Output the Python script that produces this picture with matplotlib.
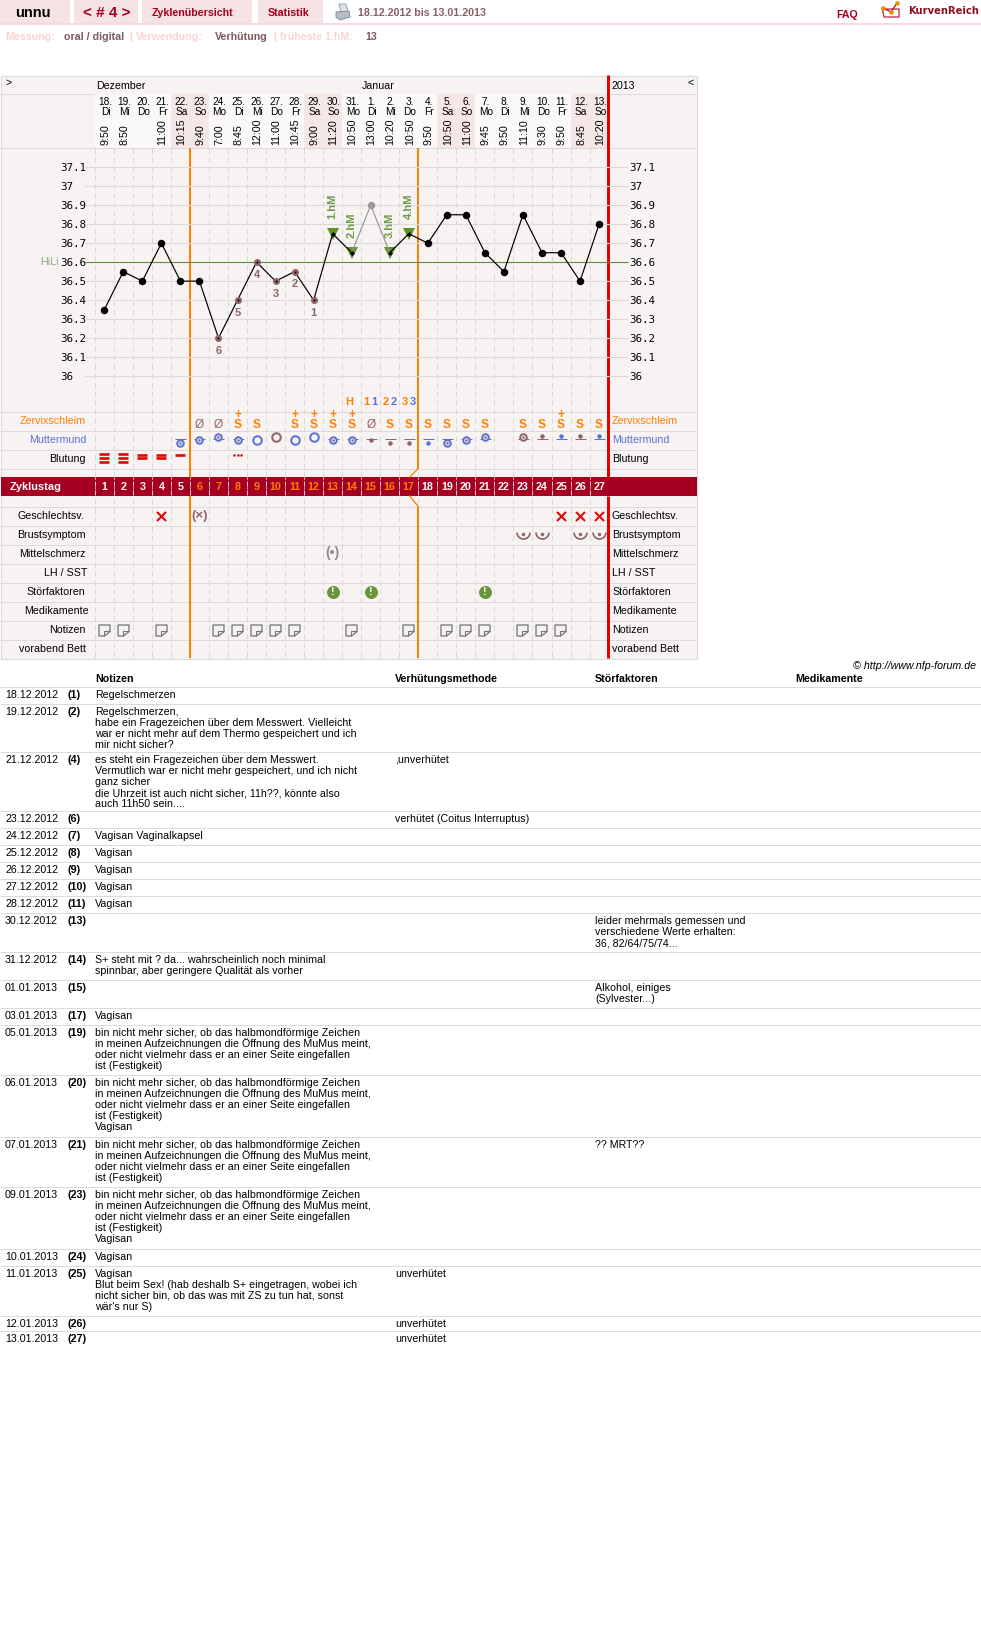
#!/usr/bin/env python
"""NFP cycle chart: temperature curve, symptom rows and the notes table below."""

import matplotlib
matplotlib.use("Agg")
import matplotlib.pyplot as plt
from matplotlib.patches import Rectangle, Polygon
from matplotlib.path import Path

plt.rcParams["font.family"] = ["Liberation Sans", "DejaVu Sans"]

# ── Data ──────────────────────────────────────────────────────────────────────
DAYS = list(range(1, 28))
DATE_NUMS = ["18.", "19.", "20.", "21.", "22.", "23.", "24.", "25.", "26.", "27.", "28.", "29.", "30.", "31.",
             "1.", "2.", "3.", "4.", "5.", "6.", "7.", "8.", "9.", "10.", "11.", "12.", "13."]
WEEKDAYS = ["Di", "Mi", "Do", "Fr", "Sa", "So", "Mo", "Di", "Mi", "Do", "Fr", "Sa", "So", "Mo",
            "Di", "Mi", "Do", "Fr", "Sa", "So", "Mo", "Di", "Mi", "Do", "Fr", "Sa", "So"]
TIMES = ["9:50", "8:50", "", "11:00", "10:15", "9:40", "7:00", "8:45", "12:00", "11:00", "10:45", "9:00", "11:20",
         "10:50", "13:00", "10:20", "10:50", "9:50", "10:50", "11:00", "9:45", "9:50", "11:10", "9:30", "9:50",
         "8:45", "10:20"]
WEEKEND_DAYS = [5, 6, 12, 13, 19, 20, 26, 27]
TEMPS = [36.35, 36.55, 36.5, 36.7, 36.5, 36.5, 36.2, 36.4, 36.6, 36.5, 36.55, 36.4, 36.75, 36.65, 36.9,
         36.65, 36.75, 36.7, 36.85, 36.85, 36.65, 36.55, 36.85, 36.65, 36.65, 36.5, 36.8]
TEMP_TICKS = [37.1, 37.0, 36.9, 36.8, 36.7, 36.6, 36.5, 36.4, 36.3, 36.2, 36.1, 36.0]
TEMP_LABELS = ["37.1", "37", "36.9", "36.8", "36.7", "36.6", "36.5", "36.4", "36.3", "36.2", "36.1", "36"]
HILI = 36.6
LOW_DAYS = [7, 8, 9, 10, 11, 12]
LOW_LABELS = ["6", "5", "4", "3", "2", "1"]
EXCLUDED_DAY = 15
HM_DAYS = [13, 14, 16, 17]
HM_LABELS = ["1.hM", "2.hM", "3.hM", "4.hM"]
FERTILE_START, FERTILE_END = 5.5, 17.5

PEAK_DAYS = [15, 16, 17]
PEAK_LABELS = ["1", "2", "3"]

ZS_NONE_DAYS = [6, 7, 15]
ZS_S_DAYS = [9, 16, 17, 18, 19, 20, 21, 23, 24, 26, 27]
ZS_SPLUS_DAYS = [8, 11, 12, 13, 14, 25]

MM_DAYS = [5, 6, 7, 8, 9, 10, 11, 12, 13, 14, 15, 16, 17, 18, 19, 20, 21, 23, 24, 25, 26, 27]
MM_KIND = ["ring", "ring", "ring", "ring", "big", "big", "big", "big", "ring", "ring", "dot", "dot", "dot", "dot",
           "ring", "ring", "ring", "ring", "dot", "dot", "dot", "dot"]
MM_LEVEL = [1, 0, -1, 0, 0, -1, 0, -1, 0, 0, 0, 1, 1, 1, 1, 0, -1, -1, -1, -1, -1, -1]
MM_LINE = [1, 1, 1, 1, 0, 0, 0, 0, 1, 1, 1, 1, 1, 1, 1, 1, 1, 1, 1, 1, 1, 1]
MM_COLOR = ["b", "b", "b", "b", "b", "r", "b", "b", "b", "b", "r", "r", "r", "b", "b", "b", "b", "r", "r", "b", "r", "b"]

BLEED_DAYS = [1, 2, 3, 4, 5]
BLEED_BARS = [3, 3, 2, 2, 1]
SPOT_DAY = 8
SEX_DAYS = [4, 25, 26, 27]
SEX_UNSURE_DAY = 6
BREAST_DAYS = [23, 24, 26, 27]
PAIN_DAY = 13
DISTURB_DAYS = [13, 15, 21]
NOTE_DAYS = [1, 2, 4, 7, 8, 9, 10, 11, 14, 17, 19, 20, 21, 23, 24, 25]

ROW_LABELS = ["Zervixschleim", "Muttermund", "Blutung", "Geschlechtsv.", "Brustsymptom", "Mittelschmerz",
              "LH / SST", "Störfaktoren", "Medikamente", "Notizen", "vorabend Bett"]

FESTIG = ["bin nicht mehr sicher, ob das halbmondförmige Zeichen",
          "in meinen Aufzeichnungen die Öffnung des MuMus meint,",
          "oder nicht vielmehr dass er an einer Seite eingefallen",
          "ist (Festigkeit)"]
TABLE_DATES = ["18.12.2012", "19.12.2012", "21.12.2012", "23.12.2012", "24.12.2012", "25.12.2012", "26.12.2012",
               "27.12.2012", "28.12.2012", "30.12.2012", "31.12.2012", "01.01.2013", "03.01.2013", "05.01.2013",
               "06.01.2013", "07.01.2013", "09.01.2013", "10.01.2013", "11.01.2013", "12.01.2013", "13.01.2013"]
TABLE_NUMS = ["(1)", "(2)", "(4)", "(6)", "(7)", "(8)", "(9)", "(10)", "(11)", "(13)", "(14)", "(15)", "(17)",
              "(19)", "(20)", "(21)", "(23)", "(24)", "(25)", "(26)", "(27)"]
TABLE_NOTES = [
    ["Regelschmerzen"],
    ["Regelschmerzen,", "habe ein Fragezeichen über dem Messwert. Vielleicht",
     "war er nicht mehr auf dem Thermo gespeichert und ich", "mir nicht sicher?"],
    ["es steht ein Fragezeichen über dem Messwert.", "Vermutlich war er nicht mehr gespeichert, und ich nicht",
     "ganz sicher", "die Uhrzeit ist auch nicht sicher, 11h??, könnte also", "auch 11h50 sein...."],
    [], ["Vagisan Vaginalkapsel"], ["Vagisan"], ["Vagisan"], ["Vagisan"], ["Vagisan"], [],
    ["S+ steht mit ? da... wahrscheinlich noch minimal", "spinnbar, aber geringere Qualität als vorher"],
    [], ["Vagisan"], FESTIG, FESTIG + ["Vagisan"], FESTIG, FESTIG + ["Vagisan"], ["Vagisan"],
    ["Vagisan", "Blut beim Sex! (hab deshalb S+ eingetragen, wobei ich",
     "nicht sicher bin, ob das was mit ZS zu tun hat, sonst", "wär's nur S)"],
    [], [],
]
TABLE_METHOD = ["", "", ",unverhütet", "verhütet (Coitus Interruptus)", "", "", "", "", "", "", "", "", "", "", "",
                "", "", "", "unverhütet", "unverhütet", "unverhütet"]
TABLE_DISTURB = [[], [], [], [], [], [], [], [], [],
                 ["leider mehrmals gemessen und", "verschiedene Werte erhalten:", "36, 82/64/75/74..."],
                 [], ["Alkohol, einiges", "(Sylvester...)"], [], [], [], ["?? MRT??"], [], [], [], [], []]

# ── Layout and colours (page pixels) ──────────────────────────────────────────
W, H = 981, 1639
DAY1_X, DAY_W = 104.3, 19.03
T36_Y, PX_PER_DEG = 376.0, 189.7

TABLE_TEXT_Y = [694.3, 711, 759.3, 818.3, 835.5, 852.5, 869.5, 886.5, 903.5, 920.3, 959.3, 987.3, 1015, 1032.3,
                1082.3, 1144, 1194, 1256.3, 1273.3, 1323.3, 1338.3]
TABLE_RULES = [686.5, 703.5, 751.5, 810.5, 827.5, 844.5, 861.5, 878.5, 895.5, 912.5, 951.5, 979.5, 1007.5, 1024.5,
               1074.5, 1136.5, 1186.5, 1248.5, 1265.5, 1315.5, 1330.5]
ROW_RULES = [411.5, 430.5, 449.5, 468.5, 506.5, 525.5, 544.5, 563.5, 582.5, 601.5, 620.5, 639.5]
ROW_Y = [420.5, 439.5, 458.5, 515.5, 534.5, 553.5, 572.5, 591.5, 610.5, 629.5, 648.5]
LABEL_RIGHT = [86, 86, 86, 84, 86, 86, 87, 85, 89, 86, 86]

PANEL = "#F8F3F3"
GRID = "#DDDAD9"
PINK = "#F5E3E4"
DARKRED = "#A50021"
ORANGE = "#FF8000"
RED = "#E60000"
BLUE = "#5A72D8"
BROWN = "#8F646C"
GREEN = "#5F9329"
FS = 7.68
MM_COLORS = {"b": BLUE, "r": BROWN}


def px(n):
    """Pixels to points at dpi 100."""
    return n * 0.72


def day_at(x):
    return 1 + (x - DAY1_X) / DAY_W


fig = plt.figure(figsize=(W / 100, H / 100), dpi=100, facecolor="white")
page = fig.add_axes([0, 0, 1, 1], zorder=1)
rows = fig.add_axes([0, 0, 1, 1], zorder=2)
curve = fig.add_axes([0, 0, 1, 1], zorder=3)
page.set_xlim(0, W)
page.set_ylim(H, 0)
rows.set_xlim(day_at(0), day_at(W))
rows.set_ylim(H, 0)
curve.set_xlim(day_at(0), day_at(W))
curve.set_ylim(36 + (T36_Y - H) / PX_PER_DEG, 36 + T36_Y / PX_PER_DEG)
for a in (page, rows, curve):
    a.axis("off")
    a.patch.set_alpha(0)


def txt(ax, x, y, s, size=FS, color="black", weight="normal", ha="left", **kw):
    """Text placed by the visual centre line of its row."""
    return ax.text(x, y + 3.7, s, fontsize=size, color=color, fontweight=weight, ha=ha, va="baseline", **kw)


# ── Top bar ───────────────────────────────────────────────────────────────────
for x0, x1 in [(0, 70), (74, 138), (142, 252), (258, 323)]:
    page.add_patch(Rectangle((x0, 0), x1 - x0, 23, fc=PINK, ec="none"))
page.hlines(24, 0, W, color="#F3D9DB", lw=px(2))
txt(page, 33, 13, "unnu", size=10.5, weight="bold", ha="center")
txt(page, 106.7, 13, "< # 4 >", size=11, color=DARKRED, weight="bold", ha="center")
txt(page, 192.7, 12, "Zyklenübersicht", color=DARKRED, weight="bold", ha="center")
txt(page, 288.7, 12, "Statistik", color=DARKRED, weight="bold", ha="center")
txt(page, 358, 12, "18.12.2012 bis 13.01.2013", color="#8A5F68", weight="bold")
txt(page, 836, 14, "FAQ", color=DARKRED, weight="bold")
txt(page, 908, 10, "KurvenReich", size=7.2, color="#8E0F22", weight="bold", family="DejaVu Sans")

# printer icon
page.add_patch(Polygon([(339, 4), (346, 4), (348, 12), (341, 12)], fc="#DDE3EA", ec="#8A97A5", lw=0.6))
page.add_patch(Polygon([(336, 12), (349, 11), (350, 17), (340, 20), (336, 17)], fc="#B4BCC4", ec="#7C8791", lw=0.6))

# logo
page.plot([882, 884, 899, 899, 884, 884], [8, 17, 17, 9, 9, 8], color="#C0284A", lw=px(1.3))
page.plot([883, 891, 897], [8, 12, 3], color="#8E0F22", lw=px(1.2))
page.plot([883, 891, 897], [8, 12, 3], "o", color="#F08A00", ms=px(4.5), mew=0)

for x, s, col in [(5.3, "Messung:", "#FBD3D4"), (64, "oral / digital", "#7D5A60"), (129, "|", "#FBD3D4"),
                  (136, "Verwendung:", "#FBD3D4"), (215, "Verhütung", "#7D5A60"), (273, "|", "#FBD3D4"),
                  (280, "früheste 1.hM:", "#FBD3D4"), (365, "13", "#7D5A60")]:
    txt(page, x, 36, s, color=col, weight="bold")

# ── Chart panel ───────────────────────────────────────────────────────────────
page.add_patch(Rectangle((0.5, 75.5), 696.5, 583, fc=PANEL, ec=GRID, lw=px(1.2)))
page.hlines([93.5, 147.5], 0, 697, color=GRID, lw=px(1))
page.hlines(ROW_RULES, 0, 697, color=GRID, lw=px(1))

txt(page, 5, 82, ">")
txt(page, 96.5, 85, "Dezember")
txt(page, 362, 85, "Januar")
txt(page, 612, 85, "2013")
txt(page, 687, 82, "<")

# date header cells
rows.bar(DAYS, 54, width=1, bottom=93.5, color="#FBF8F8", zorder=1)
rows.bar(WEEKEND_DAYS, 54, width=1, bottom=93.5, color="#F5E6E7", zorder=1)
narrow = ["Liberation Sans Narrow", "Liberation Sans"]
for d, num, wd, t in zip(DAYS, DATE_NUMS, WEEKDAYS, TIMES):
    rows.text(d + 0.06, 102.3, num, fontsize=7.3, family=narrow, ha="center", va="center", zorder=3)
    rows.text(d + 0.06, 112.3, wd, fontsize=7.3, family=narrow, ha="center", va="center", zorder=3)
    rows.text(d + 0.05, 145, t, fontsize=FS, rotation=90, ha="center", va="bottom", zorder=3)

bounds = [d - 0.5 for d in DAYS]
rows.vlines(bounds, 147.5, 658, color="#D9D6D5", lw=px(1), linestyles=(0, (5, 4)), zorder=1)

# temperature grid
curve.hlines(TEMP_TICKS, day_at(85), day_at(628), color=GRID, lw=px(1.1), zorder=1)
curve.hlines(HILI, day_at(85), day_at(628), color=GREEN, lw=px(1.1), zorder=2)
for t, lab in zip(TEMP_TICKS, TEMP_LABELS):
    for x in (60, 629):
        curve.text(day_at(x), t - 0.004, lab, fontsize=7.8, family="DejaVu Sans Mono", ha="left", va="center")
curve.text(day_at(40), HILI, "HiLi", fontsize=FS, color="#8FA985", ha="left", va="center")

# fertile window and cycle end
rows.vlines(FERTILE_START, 147.5, 477, color=ORANGE, lw=px(2), zorder=4)
rows.vlines(FERTILE_START, 496, 658, color=ORANGE, lw=px(2), zorder=4)
rows.vlines(FERTILE_END, 147.5, 468.5, color=ORANGE, lw=px(2), zorder=4)
rows.vlines(FERTILE_END, 506.5, 658, color=ORANGE, lw=px(2), zorder=4)
rows.plot([FERTILE_END, FERTILE_END - 0.45], [468.5, 477], color=ORANGE, lw=px(1.3), zorder=4)
rows.plot([FERTILE_END - 0.45, FERTILE_END], [496, 506.5], color=ORANGE, lw=px(1.3), zorder=4)
rows.vlines(day_at(607.5), 75, 477, color=RED, lw=px(3), zorder=5)
rows.vlines(day_at(607.5), 496, 658, color=RED, lw=px(3), zorder=5)

# curve: the excluded reading is bridged in grey
idx = DAYS.index(EXCLUDED_DAY)
curve.plot(DAYS[:idx], TEMPS[:idx], color="black", lw=px(1.2), zorder=4)
curve.plot(DAYS[idx + 1:], TEMPS[idx + 1:], color="black", lw=px(1.2), zorder=4)
curve.plot(DAYS[idx - 1:idx + 2], TEMPS[idx - 1:idx + 2], color="#999999", lw=px(1.2), zorder=4)
plain = [d for d in DAYS if d not in LOW_DAYS + HM_DAYS + [EXCLUDED_DAY]]
curve.plot(plain, [TEMPS[d - 1] for d in plain], "o", color="black", ms=px(7.5), mew=0, zorder=5)
curve.plot(LOW_DAYS, [TEMPS[d - 1] for d in LOW_DAYS], "o", color=BROWN, ms=px(7), mew=0, zorder=5)
curve.plot(LOW_DAYS, [TEMPS[d - 1] for d in LOW_DAYS], "o", color="black", ms=px(2), mew=0, zorder=6)
curve.plot(EXCLUDED_DAY, TEMPS[idx], "o", color="#999999", ms=px(7.5), mew=0, zorder=5)
for d, lab in zip(LOW_DAYS, LOW_LABELS):
    curve.annotate(lab, (d, TEMPS[d - 1]), xytext=(0, -px(12.5)), textcoords="offset points", fontsize=8,
                   color=BROWN, fontweight="bold", ha="center", va="center", zorder=6)
hm_t = [TEMPS[d - 1] for d in HM_DAYS]
curve.plot(HM_DAYS, hm_t, "v", color=GREEN, ms=px(12.5), mew=0, zorder=3.5)
curve.plot(HM_DAYS, hm_t, "D", color="black", ms=px(3.5), mew=0, zorder=6)
for d, t, lab in zip(HM_DAYS, hm_t, HM_LABELS):
    curve.annotate(lab, (d, t), xytext=(0, px(27)), textcoords="offset points", fontsize=8, color="#6B9A45",
                   fontweight="bold", rotation=90, ha="center", va="center", zorder=6)

# mucus peak counters
rows.text(14 - 0.12, 401.7, "H", fontsize=8, color=ORANGE, fontweight="bold", ha="center", va="center", zorder=5)
for d, lab in zip(PEAK_DAYS, PEAK_LABELS):
    rows.text(d - 0.21, 401.7, lab, fontsize=8, color=ORANGE, fontweight="bold", ha="center", va="center", zorder=5)
    rows.text(d + 0.21, 401.7, lab, fontsize=8, color=BLUE, fontweight="bold", ha="center", va="center", zorder=5)

# row labels
for i, (lab, y, xr) in enumerate(zip(ROW_LABELS, ROW_Y, LABEL_RIGHT)):
    col = ORANGE if i == 0 else BLUE if i == 1 else "black"
    txt(page, xr, y, lab, color=col, ha="right", zorder=5)
    txt(page, 612, y, lab, color=col, zorder=5)

# band with cycle days
page.add_patch(Rectangle((1, 477), 696, 19, fc=DARKRED, ec="none", zorder=3))
rows.vlines(bounds, 477, 496, color="#E9C8CE", lw=px(0.8), linestyles=(0, (3, 3)), zorder=3)
page.text(10, 490.5, "Zyklustag", fontsize=FS + 0.2, color="white", fontweight="bold", va="baseline", zorder=4)
for d in DAYS:
    col = ORANGE if FERTILE_START < d < FERTILE_END else "white"
    rows.text(d, 490.3, str(d), fontsize=FS, color=col, fontweight="bold", ha="center", va="baseline", zorder=4)

# mucus
y = ROW_Y[0]
for d in ZS_S_DAYS + ZS_SPLUS_DAYS:
    rows.text(d, y + 7, "S", fontsize=8.6, color=ORANGE, fontweight="bold", ha="center", va="baseline", zorder=5)
for d in ZS_SPLUS_DAYS:
    rows.text(d, y - 5.5, "+", fontsize=8.5, color=ORANGE, fontweight="bold", ha="center", va="center", zorder=5)
for d in ZS_NONE_DAYS:
    rows.text(d, y + 7, "Ø", fontsize=8.6, color=BROWN, ha="center", va="baseline", zorder=5)

# cervix: ring or dot above, on or below the bar
for d, kind, lev, line, c in zip(MM_DAYS, MM_KIND, MM_LEVEL, MM_LINE, MM_COLOR):
    col = MM_COLORS[c]
    if lev > 0:
        y = 443
    elif lev < 0:
        y = 435.8 if kind == "dot" else 436.6
    else:
        y = 439.5
    if line:
        rows.plot(d, 439.3, "_", color=col, ms=px(11), mew=px(1), zorder=5)
    if kind == "dot":
        rows.plot(d, y, "o", color=col if lev else BROWN, ms=px(4.5), mew=0, zorder=6)
    else:
        size = 8.5 if kind == "big" else 6.5
        rows.plot(d, y, "o", mfc=PANEL, mec=col, ms=px(size), mew=px(2), zorder=6)
        if kind == "ring":
            rows.plot(d, y, "o", color=BROWN, ms=px(2.5), mew=0, zorder=7)

# bleeding
BAR_OFFS = {1: [0.2], 2: [0.2, 3.9], 3: [-0.3, 3.5, 7.2]}
for d, n in zip(BLEED_DAYS, BLEED_BARS):
    for off in BAR_OFFS[n]:
        rows.plot(d, 454.5 + off, "_", color=RED, ms=px(10.5), mew=px(2.6), zorder=5)
rows.plot([SPOT_DAY - 0.17, SPOT_DAY, SPOT_DAY + 0.17], [454.7] * 3, "o", color=RED, ms=px(2.5), mew=0, zorder=5)

# intercourse
rows.plot(SEX_DAYS, [ROW_Y[3]] * len(SEX_DAYS), "x", color=RED, ms=px(9), mew=px(2), zorder=5)
rows.text(SEX_UNSURE_DAY, ROW_Y[3], "(×)", fontsize=9.5, color=BROWN, fontweight="bold", ha="center", va="center", zorder=5)

# breast symptom: half circle under a dot
smile = Path.arc(180, 360)
rows.plot(BREAST_DAYS, [532] * len(BREAST_DAYS), ls="none", marker=smile, mfc="none", mec=BROWN, ms=px(13), mew=px(1.7), zorder=5)
rows.plot(BREAST_DAYS, [533.5] * len(BREAST_DAYS), "o", color=BROWN, ms=px(3.5), mew=0, zorder=5)

# middle pain
rows.text(PAIN_DAY, ROW_Y[5] - 0.5, "(•)", fontsize=10, color="#8C8C8C", fontweight="bold", ha="center", va="center", zorder=5)

# disturbances
rows.plot(DISTURB_DAYS, [ROW_Y[7]] * len(DISTURB_DAYS), "o", color="#67973A", ms=px(13), mew=0, zorder=5)
for d in DISTURB_DAYS:
    rows.text(d, ROW_Y[7] + 0.2, "!", fontsize=8, color="white", fontweight="bold", ha="center", va="center", zorder=6)

# note icons: sheet with a folded corner
sheet = Path([(-1, 1), (1, 1), (1, -0.2), (0.0, -1), (-1, -1), (-1, 1)], closed=True)
fold = Path([(0.0, -1), (0.0, -0.2), (1, -0.2)])
note_y = [ROW_Y[9]] * len(NOTE_DAYS)
note_x = [d - 0.03 for d in NOTE_DAYS]
rows.plot(note_x, note_y, ls="none", marker=sheet, mfc="#F4F2F2", mec="#777777", ms=px(11), mew=px(1.3), zorder=5)
rows.plot(note_x, note_y, ls="none", marker=fold, mfc="none", mec="#777777", ms=px(11), mew=px(1.1), zorder=5)

# ── Notes table ───────────────────────────────────────────────────────────────
txt(page, 853, 665.5, "© http://www.nfp-forum.de", style="italic")
for x, s in [(95, "Notizen"), (395, "Verhütungsmethode"), (595, "Störfaktoren"), (795, "Medikamente")]:
    txt(page, x, 678.5, s, weight="bold")
page.hlines(TABLE_RULES, 0, W, color=GRID, lw=px(1))
for y, date, num, notes, method, disturb in zip(TABLE_TEXT_Y, TABLE_DATES, TABLE_NUMS, TABLE_NOTES, TABLE_METHOD,
                                                TABLE_DISTURB):
    txt(page, 5, y, date)
    txt(page, 68, y, num, weight="bold")
    for j, line in enumerate(notes):
        txt(page, 95, y + j * 11.0, line)
    txt(page, 395, y, method)
    for j, line in enumerate(disturb):
        txt(page, 595, y + j * 11.0, line)

fig.savefig("out.png", dpi=100, facecolor="white")
